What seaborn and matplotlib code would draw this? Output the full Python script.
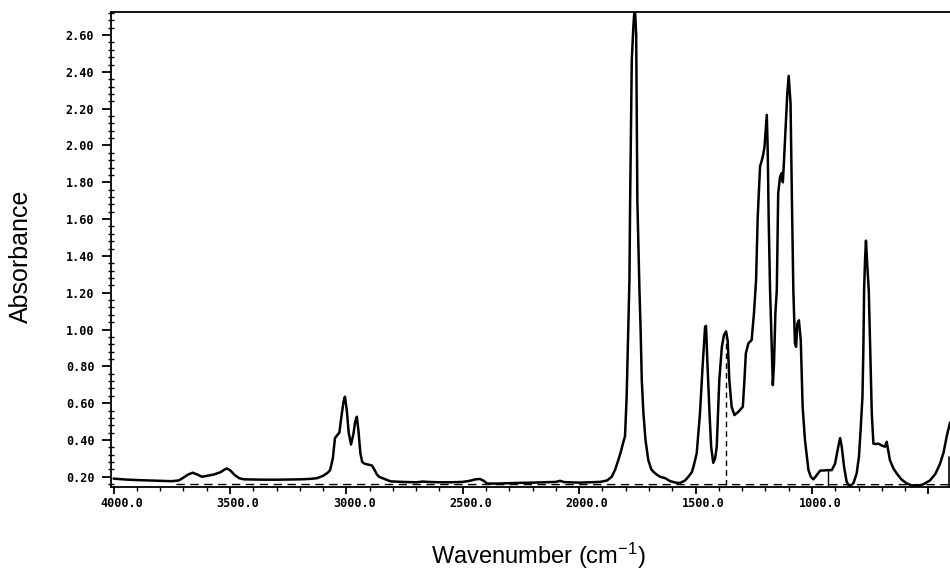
import numpy as np
import pandas as pd
import matplotlib
matplotlib.use("Agg")
import matplotlib.pyplot as plt
import matplotlib.ticker as mticker
import matplotlib.transforms as mtransforms
import seaborn as sns

# ---- spectrum data ----
wavenumber = [4000, 3950, 3900, 3850, 3800, 3750, 3720, 3700, 3680, 3660, 3640, 3620, 3600, 3570,
              3540, 3525, 3514, 3500, 3480, 3460, 3440, 3400, 3350, 3300, 3250, 3200, 3160, 3127,
              3100, 3080, 3070, 3058, 3049, 3038, 3030, 3022, 3012, 3006, 2998, 2990, 2980, 2970,
              2962, 2955, 2948, 2940, 2932, 2920, 2905, 2891, 2880, 2870, 2860, 2840, 2810, 2760,
              2700, 2670, 2650, 2600, 2550, 2500, 2470, 2445, 2426, 2410, 2395, 2350, 2300, 2250,
              2200, 2150, 2100, 2082, 2065, 2000, 1950, 1910, 1880, 1860, 1845, 1832, 1820, 1810,
              1803, 1796, 1790, 1784, 1781, 1774, 1767, 1761, 1755, 1750, 1741, 1736, 1731, 1724,
              1715, 1703, 1690, 1681, 1665, 1652, 1630, 1609, 1585, 1567, 1545, 1531, 1516, 1509,
              1495, 1481, 1469, 1459, 1455, 1449, 1440, 1433, 1424, 1416, 1409, 1398, 1387, 1378,
              1369, 1362, 1355, 1345, 1333, 1316, 1297, 1290, 1284, 1273, 1259, 1249, 1240, 1233,
              1223, 1211, 1204, 1194, 1190, 1186, 1180, 1177, 1171, 1168, 1163, 1157, 1151, 1145,
              1137, 1130, 1125, 1120, 1111, 1106, 1100, 1092, 1086, 1080, 1077, 1073, 1068, 1063,
              1056, 1048, 1040, 1030, 1015, 1005, 994, 985, 972, 965, 930, 915, 901, 887, 879, 872,
              862, 851, 839, 822, 808, 798, 791, 783, 779, 776, 772, 768, 762, 756, 750, 743, 736,
              725, 715, 700, 686, 679, 665, 650, 636, 615, 593, 570, 550, 520, 493, 470, 450, 435,
              421, 407]
absorbance = [0.190, 0.185, 0.182, 0.180, 0.178, 0.176, 0.180, 0.195, 0.212, 0.222, 0.212, 0.200, 0.205, 0.212,
              0.225, 0.238, 0.245, 0.236, 0.210, 0.192, 0.186, 0.185, 0.184, 0.184, 0.185, 0.186, 0.188, 0.192,
              0.205, 0.222, 0.236, 0.300, 0.410, 0.428, 0.440, 0.520, 0.610, 0.635, 0.560, 0.440, 0.375, 0.430,
              0.500, 0.526, 0.450, 0.330, 0.280, 0.270, 0.266, 0.262, 0.240, 0.215, 0.200, 0.190, 0.175, 0.172,
              0.170, 0.174, 0.172, 0.170, 0.170, 0.172, 0.178, 0.186, 0.188, 0.178, 0.163, 0.163, 0.165, 0.167,
              0.168, 0.170, 0.172, 0.178, 0.171, 0.168, 0.170, 0.172, 0.180, 0.200, 0.240, 0.290, 0.340, 0.390,
              0.420, 0.635, 0.950, 1.270, 1.700, 2.460, 2.650, 2.760, 2.600, 1.700, 1.215, 1.000, 0.725, 0.545,
              0.400, 0.290, 0.240, 0.227, 0.210, 0.200, 0.192, 0.176, 0.168, 0.166, 0.180, 0.200, 0.225, 0.254,
              0.327, 0.545, 0.816, 1.015, 1.020, 0.816, 0.545, 0.363, 0.276, 0.300, 0.363, 0.725, 0.906, 0.970,
              0.990, 0.940, 0.725, 0.580, 0.535, 0.553, 0.580, 0.725, 0.870, 0.925, 0.943, 1.090, 1.270, 1.610,
              1.885, 1.940, 1.990, 2.166, 1.975, 1.610, 1.215, 1.090, 0.816, 0.698, 0.816, 1.090, 1.215, 1.740,
              1.830, 1.850, 1.800, 1.920, 2.156, 2.280, 2.378, 2.230, 1.700, 1.215, 1.090, 0.925, 0.906, 1.030,
              1.050, 0.940, 0.580, 0.400, 0.236, 0.200, 0.186, 0.200, 0.222, 0.233, 0.236, 0.236, 0.270, 0.363, 0.410, 0.363,
              0.254, 0.173, 0.148, 0.164, 0.218, 0.310, 0.454, 0.635, 0.906, 1.215, 1.378, 1.483, 1.340, 1.215, 0.906, 0.545, 0.380,
              0.378, 0.380, 0.370, 0.363, 0.390, 0.290, 0.245, 0.218, 0.185, 0.164, 0.152, 0.148, 0.160, 0.180, 0.215, 0.270, 0.330,
              0.420, 0.495]

# baseline and marker lines drawn by the instrument
baseline_x = [3730, 407]
baseline_y = [0.158, 0.157]
peak_marker_x = [1369, 1369]
peak_marker_y = [0.157, 0.96]
stub_x = [930, 930]
stub_y = [0.146, 0.236]
edge_x = [410, 410]
edge_y = [0.146, 0.31]

# ticks
x_major = [4000, 3500, 3000, 2500, 2000, 1500, 1000, 500]
y_major = [0.20, 0.40, 0.60, 0.80, 1.00, 1.20, 1.40, 1.60, 1.80, 2.00, 2.20, 2.40, 2.60]

sns.set_theme(style="ticks")
plt.rcParams['font.family'] = ['Liberation Sans', 'DejaVu Sans']
plt.rcParams['mathtext.default'] = 'regular'
plt.rcParams['text.color'] = 'black'
plt.rcParams['axes.labelcolor'] = 'black'
plt.rcParams['xtick.color'] = 'black'
plt.rcParams['ytick.color'] = 'black'

W, H = 950, 574
fig = plt.figure(figsize=(W / 100, H / 100), dpi=100)
left_px, right_px, top_px, bottom_px = 111, 950, 11.7, 486.7
ax = fig.add_axes([left_px / W, 1 - bottom_px / H, (right_px - left_px) / W, (bottom_px - top_px) / H])

df = pd.DataFrame({"Wavenumber": wavenumber, "Absorbance": absorbance})
sns.lineplot(data=df, x="Wavenumber", y="Absorbance", ax=ax, color="black",
             linewidth=1.8, estimator=None, sort=False)

ax.plot(baseline_x, baseline_y, color="black", lw=1.0, ls=(0, (6, 4)))
ax.plot(peak_marker_x, peak_marker_y, color="black", lw=1.0, ls=(0, (4, 3)))
ax.plot(stub_x, stub_y, color="black", lw=1.0)
ax.plot(edge_x, edge_y, color="black", lw=1.2)

ax.set_xlim(4011, 407)
ax.set_ylim(0.146, 2.727)

ax.xaxis.set_major_locator(mticker.FixedLocator(x_major))
ax.xaxis.set_minor_locator(mticker.MultipleLocator(100))
ax.xaxis.set_major_formatter(mticker.FuncFormatter(lambda v, p: f"{v:.1f}" if v >= 1000 else ""))
ax.yaxis.set_major_locator(mticker.FixedLocator(y_major))
ax.yaxis.set_minor_locator(mticker.MultipleLocator(0.04))
ax.yaxis.set_major_formatter(mticker.FormatStrFormatter("%.2f"))

tick_font = dict(family="DejaVu Sans Mono", weight="bold", size=8.5)
ax.tick_params(axis="x", which="major", direction="out", length=5, width=1.3, pad=2.5)
ax.tick_params(axis="x", which="minor", direction="out", length=3, width=1.0)
ax.tick_params(axis="y", which="major", direction="out", length=6.5, width=1.3, pad=5.5)
ax.tick_params(axis="y", which="minor", direction="inout", length=4, width=1.0)
for lbl in ax.get_xticklabels() + ax.get_yticklabels():
    lbl.set_fontfamily(tick_font["family"])
    lbl.set_fontweight(tick_font["weight"])
    lbl.set_fontsize(tick_font["size"])
offset = mtransforms.ScaledTranslation(8 / 100, 0, fig.dpi_scale_trans)
for lbl in ax.get_xticklabels():
    lbl.set_transform(lbl.get_transform() + offset)

for side in ["left", "top", "bottom"]:
    ax.spines[side].set_linewidth(1.3)
    ax.spines[side].set_color("black")
ax.spines["right"].set_visible(False)

ax.set_ylabel("Absorbance", fontsize=18)
ax.yaxis.set_label_coords(-0.093, 0.486)
ax.set_xlabel("Wavenumber (cm$^{-1}$)", fontsize=17)
ax.xaxis.set_label_coords(0.509, -0.114)

fig.savefig("out.png", dpi=100, facecolor="white")
